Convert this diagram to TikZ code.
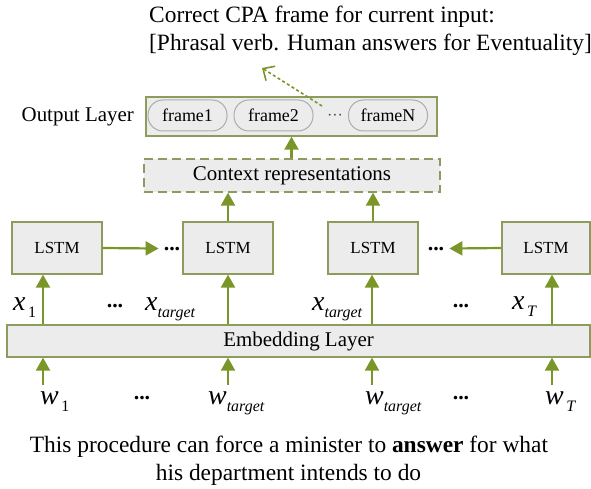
\documentclass[tikz,border=0pt]{standalone}
\usepackage{fontspec}
\setmainfont{Liberation Serif}
\usepackage{xcolor}
\usetikzlibrary{arrows.meta}
\definecolor{arrgreen}{RGB}{122,150,40}
\definecolor{edgegreen}{RGB}{140,156,92}
\definecolor{boxgray}{RGB}{236,236,236}
\newcommand{\varlab}[2]{{\fontsize{28}{28}\selectfont\itshape #1}\raisebox{-7bp}{\fontsize{16}{16}\selectfont #2}}

\begin{document}
\begin{tikzpicture}[x=1bp,y=-1bp,>={Triangle[length=13bp,width=14bp]},font=\fontsize{21}{21}\selectfont,
 box/.style={draw=edgegreen,line width=1.3bp,fill=boxgray,inner sep=0pt},
 lstm/.style={box,minimum width=90bp,minimum height=52bp,font=\fontsize{17}{17}\selectfont},
 frm/.style={draw=gray!65,line width=1bp,rounded corners=15bp,minimum width=79bp,minimum height=31bp,inner sep=0pt,font=\fontsize{18}{18}\selectfont},
 arr/.style={->,draw=arrgreen,line width=2.2bp},
 dasharr/.style={-{Straight Barb[length=9bp,width=17bp]},draw=arrgreen,line width=1.6bp,dash pattern=on 3bp off 2.5bp},
 bigdots/.style={anchor=base,inner ysep=0pt,inner xsep=5bp,font=\fontsize{22}{22}\selectfont\bfseries},
 varnode/.style={anchor=base west,inner xsep=0pt,inner ysep=6bp},
 plain/.style={anchor=base,inner sep=0pt,font=\fontsize{23.5}{23.5}\selectfont}]
\useasboundingbox (0,0) rectangle (591,489);\fill[white] (0,0) rectangle (591,489);
% title and sentence
\node[plain,anchor=base west] (cpa1) at (149,23) {Correct CPA frame for current input:};
\node[plain,anchor=base west] (cpa2) at (149,51) {[Phrasal verb. Human answers for Eventuality]};
\node[plain] (sent1) at (289,452) {This procedure can force a minister to \textbf{answer} for what};
\node[plain] (sent2) at (288.5,480) {his department intends to do};
% output layer
\node[box,minimum width=291bp,minimum height=39bp] (out) at (291.5,116.5) {};
\node[frm] (f1) at (187.5,115.5) {frame1};\node[frm] (f2) at (273.5,115.5) {frame2};\node[frm] (fn) at (388,115.5) {frameN};
\node[inner sep=0pt,text=black!70,font=\fontsize{16}{16}\selectfont] (fdots) at (335,117) {\textperiodcentered\textperiodcentered\textperiodcentered};
\node[anchor=east,inner sep=0pt] (outlab) at (134,116.5) {Output Layer};
\coordinate (dtail) at (322,106);\coordinate (dtip) at (262,68);
\draw[dasharr] (dtail) -- (dtip);
% context, lstm, embedding
\node[box,dashed,dash pattern=on 9bp off 5bp,minimum width=296bp,minimum height=33bp] (ctx) at (292,175.5) {Context representations};
\node[lstm] (l1) at (57,248) {LSTM};\node[lstm] (l2) at (228,248) {LSTM};
\node[lstm] (l3) at (373,248) {LSTM};\node[lstm,minimum width=88bp] (l4) at (546,248) {LSTM};
\node[box,minimum width=583bp,minimum height=32bp] (emb) at (298.5,341) {Embedding Layer};
\node[bigdots] (ld1) at (172,250) {...};\node[bigdots] (ld2) at (436,250) {...};
\draw[arr] (l1.east) -- (ld1.west);\draw[arr] (l4.west) -- (ld2.east);
\draw[arr] (ctx.north -| out) -- (out.south);
\draw[arr] (l2.north) -- (ctx.south -| l2);\draw[arr] (l3.north) -- (ctx.south -| l3);
% inputs
\node[varnode] (x1) at (13,310) {\varlab{x}{\,1}};\node[varnode] (xt1) at (145,310) {\varlab{x}{\itshape target}};
\node[varnode] (xt2) at (312,310) {\varlab{x}{\itshape target}};\node[varnode] (xT) at (512,309) {\varlab{x}{\,\itshape T}};
\node[bigdots] (xd1) at (115,307) {...};\node[bigdots] (xd2) at (461,307) {...};
\node[varnode] (w1) at (40,404) {\varlab{w}{\,1}};\node[varnode] (wt1) at (208,404) {\varlab{w}{\itshape target}};
\node[varnode] (wt2) at (365,404) {\varlab{w}{\itshape target}};\node[varnode] (wT) at (545,404) {\varlab{w}{\,\itshape T}};
\node[bigdots] (wd1) at (142,399) {...};\node[bigdots] (wd2) at (461,399) {...};
\foreach \l/\w/\dx in {l1/w1/-14,l2/wt1/0,l3/wt2/-1,l4/wT/6}{
 \draw[arr] ([xshift=\dx bp]emb.north -| \l) -- ([xshift=\dx bp]\l.south);
 \draw[arr] ([xshift=\dx bp]\w.north -| \l) -- ([xshift=\dx bp]emb.south -| \l);}
\end{tikzpicture}
\end{document}
